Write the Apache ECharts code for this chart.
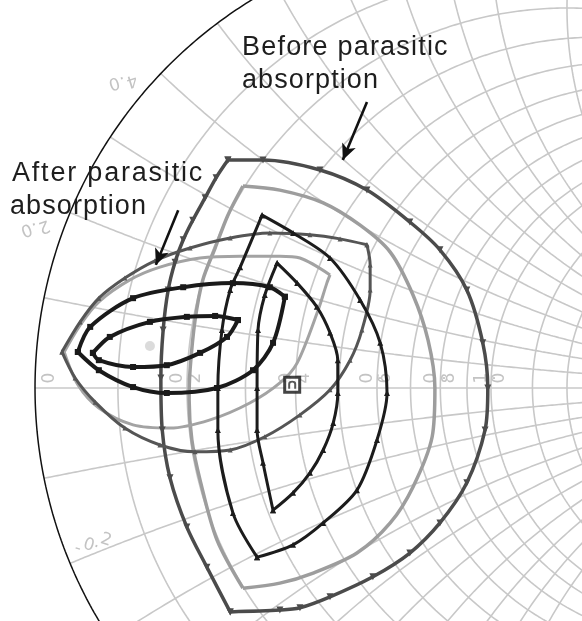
<!DOCTYPE html>
<html>
<head>
<meta charset="utf-8">
<title>Impedance loci</title>
<script src="https://cdn.jsdelivr.net/npm/echarts@6.0.0/dist/echarts.min.js"></script>
<style>
html,body{margin:0;padding:0;background:#ffffff;}
#chart{width:582px;height:621px;}
</style>
</head>
<body>
<div id="chart"></div>
<script>
// ---- Smith chart grid values ----
const resistanceValues = [0.1,0.2,0.3,0.4,0.5,0.6,0.7,0.8,0.9,1.0,1.2,1.4,1.6,1.8,2.0,3.0,4.0,5.0];
const reactanceValues = [0.1,0.2,0.3,0.4,0.5,0.6,0.7,0.8,0.9,1.0,1.2,1.4,1.6,1.8,2.0,3.0,4.0,5.0];
const resistanceLabels = ['0','0.2','0.4','0.6','0.8','1.0'];
const resistanceLabelValues = [0,0.2,0.4,0.6,0.8,1.0];
const reactanceLabels = ['0.2','0.4','-0.2'];
const reactanceLabelValues = [0.2,0.4,-0.2];

// ---- Reflection-coefficient loci [Re Γ, Im Γ] ----
// before parasitic absorption
const beforeOuterRight = [[-0.577,0.500],[-0.500,0.500],[-0.375,0.478],[-0.272,0.434],[-0.178,0.364],[-0.112,0.303],[-0.053,0.215],[-0.018,0.099],[-0.007,0.000],[-0.013,-0.092],[-0.053,-0.208],[-0.112,-0.296],[-0.178,-0.362],[-0.259,-0.414],[-0.353,-0.458],[-0.419,-0.482],[-0.463,-0.487],[-0.572,-0.491]];
const beforeOuterLeft = [[-0.572,-0.491],[-0.623,-0.393],[-0.667,-0.305],[-0.704,-0.197],[-0.721,-0.092],[-0.724,0.022],[-0.719,0.127],[-0.708,0.215],[-0.693,0.276],[-0.675,0.325],[-0.654,0.368],[-0.627,0.417],[-0.603,0.461],[-0.577,0.500]];
const beforeGreyRight = [[-0.544,0.443],[-0.463,0.434],[-0.368,0.406],[-0.287,0.357],[-0.221,0.298],[-0.171,0.204],[-0.138,0.105],[-0.123,0.000],[-0.129,-0.107],[-0.171,-0.217],[-0.221,-0.296],[-0.294,-0.362],[-0.390,-0.406],[-0.463,-0.428],[-0.544,-0.439]];
const beforeGreyLeft = [[-0.544,-0.439],[-0.601,-0.333],[-0.638,-0.202],[-0.656,-0.114],[-0.662,-0.026],[-0.660,0.039],[-0.649,0.149],[-0.632,0.237],[-0.605,0.307],[-0.577,0.379],[-0.544,0.443]];
const beforeBlackRight = [[-0.502,0.379],[-0.434,0.340],[-0.353,0.285],[-0.287,0.193],[-0.243,0.099],[-0.228,-0.011],[-0.250,-0.114],[-0.294,-0.224],[-0.368,-0.296],[-0.434,-0.344],[-0.513,-0.371]];
const beforeBlackLeft = [[-0.513,-0.371],[-0.566,-0.274],[-0.599,-0.092],[-0.599,0.000],[-0.590,0.127],[-0.572,0.215],[-0.550,0.265],[-0.502,0.379]];
const beforeInnerRight = [[-0.469,0.274],[-0.425,0.230],[-0.382,0.178],[-0.353,0.121],[-0.336,0.061],[-0.336,-0.011],[-0.346,-0.077],[-0.368,-0.136],[-0.397,-0.186],[-0.434,-0.230],[-0.478,-0.268]];
const beforeInnerLeft = [[-0.478,-0.268],[-0.500,-0.164],[-0.513,-0.092],[-0.513,0.000],[-0.511,0.127],[-0.496,0.204],[-0.469,0.274]];
// after parasitic absorption
const afterOuterUpper = [[-0.941,0.079],[-0.901,0.145],[-0.860,0.197],[-0.803,0.241],[-0.737,0.279],[-0.660,0.307],[-0.572,0.329],[-0.485,0.340],[-0.397,0.336],[-0.331,0.327],[-0.272,0.314]];
const afterOuterLower = [[-0.272,0.314],[-0.265,0.270],[-0.265,0.215],[-0.283,0.127],[-0.309,0.061],[-0.353,-0.004],[-0.419,-0.059],[-0.496,-0.107],[-0.572,-0.136],[-0.649,-0.140],[-0.726,-0.125],[-0.803,-0.088],[-0.868,-0.031],[-0.912,0.022],[-0.941,0.079]];
const afterGreyUpper = [[-0.936,0.079],[-0.901,0.138],[-0.860,0.189],[-0.792,0.237],[-0.726,0.265],[-0.638,0.285],[-0.550,0.289],[-0.463,0.289],[-0.419,0.285],[-0.353,0.248]];
const afterGreyLower = [[-0.353,0.248],[-0.360,0.230],[-0.379,0.171],[-0.425,0.055],[-0.463,0.011],[-0.529,-0.033],[-0.616,-0.070],[-0.704,-0.088],[-0.785,-0.081],[-0.860,-0.044],[-0.906,0.007],[-0.936,0.079]];
const afterBlackUpper = [[-0.906,0.079],[-0.879,0.134],[-0.785,0.197],[-0.675,0.221],[-0.566,0.230],[-0.485,0.221],[-0.452,0.200]];
const afterBlackLower = [[-0.452,0.200],[-0.478,0.099],[-0.522,0.039],[-0.601,0.000],[-0.711,-0.011],[-0.785,0.002],[-0.860,0.039],[-0.906,0.079]];
const afterInnerUpper = [[-0.873,0.077],[-0.836,0.112],[-0.748,0.145],[-0.667,0.156],[-0.605,0.158],[-0.555,0.149]];
const afterInnerLower = [[-0.555,0.149],[-0.579,0.112],[-0.638,0.077],[-0.711,0.050],[-0.785,0.046],[-0.860,0.061],[-0.873,0.077]];
// single reference points
const boxPoint = [[-0.436,0.007]];
const dotPoint = [[-0.748,0.092]];
// annotation arrows: [tail, head]
const beforeArrow = [[-0.272,0.627],[-0.325,0.500]];
const afterArrow = [[-0.686,0.390],[-0.735,0.270]];

// visible window of the Γ plane
const RE_MIN = -1.0768, RE_MAX = 0.1996, IM_MIN = -0.5110, IM_MAX = 0.8509;

function resistanceCircle(r, n) {
  const c = r / (1 + r), rad = 1 / (1 + r), pts = [];
  for (let i = 0; i <= n; i++) {
    const a = 2 * Math.PI * i / n;
    pts.push([c + rad * Math.cos(a), rad * Math.sin(a)]);
  }
  return pts;
}
function reactanceArc(x, n) {
  const cy = 1 / x, rho = 1 / Math.abs(x);
  const g0 = [(x * x - 1) / (x * x + 1), 2 * x / (x * x + 1)];
  const a1 = x > 0 ? -Math.PI / 2 : Math.PI / 2;
  let a0 = Math.atan2(g0[1] - cy, g0[0] - 1);
  if (x > 0 && a0 > a1) a0 -= 2 * Math.PI;
  if (x < 0 && a0 < a1) a0 += 2 * Math.PI;
  const pts = [];
  for (let i = 0; i <= n; i++) {
    const a = a1 + (a0 - a1) * i / n;
    pts.push([1 + rho * Math.cos(a), cy + rho * Math.sin(a)]);
  }
  return pts;
}

const GRID_COLOR = '#c8c8c8';
const series = [];
function gridLine(points, color, width) {
  series.push({ type: 'line', data: points, showSymbol: false, symbol: 'none', silent: true,
    lineStyle: { color: color, width: width }, z: 1, animation: false });
}
resistanceValues.forEach(r => gridLine(resistanceCircle(r, 720), GRID_COLOR, 1.6));
reactanceValues.forEach(x => { gridLine(reactanceArc(x, 400), GRID_COLOR, 1.6); gridLine(reactanceArc(-x, 400), GRID_COLOR, 1.6); });
gridLine([[-1, 0], [1, 0]], GRID_COLOR, 1.6);
gridLine(resistanceCircle(0, 1440), '#111111', 1.5);

function trace(points, color, width, symbol, size, rot, z) {
  series.push({ type: 'line', data: points, smooth: 0.3, silent: true, animation: false,
    symbol: symbol, symbolSize: size, symbolRotate: rot, showSymbol: symbol !== 'none',
    lineStyle: { color: color, width: width }, itemStyle: { color: color }, z: z });
}
trace(beforeOuterRight, '#4b4b4b', 3.5, 'triangle', 7, 180, 4);
trace(beforeOuterLeft, '#4b4b4b', 3.5, 'triangle', 7, 180, 4);
trace(beforeGreyRight, '#9d9d9d', 3.5, 'none', 0, 0, 3);
trace(beforeGreyLeft, '#9d9d9d', 3.5, 'none', 0, 0, 3);
trace(beforeBlackRight, '#1c1c1c', 3, 'triangle', 6, 0, 5);
trace(beforeBlackLeft, '#1c1c1c', 3, 'triangle', 6, 0, 5);
trace(beforeInnerRight, '#1c1c1c', 3, 'triangle', 6, 0, 5);
trace(beforeInnerLeft, '#1c1c1c', 3, 'triangle', 6, 0, 5);
trace(afterOuterUpper, '#555555', 3, 'triangle', 5, 0, 4);
trace(afterOuterLower, '#555555', 3, 'triangle', 5, 0, 4);
trace(afterGreyUpper, '#a3a3a3', 3, 'none', 0, 0, 3);
trace(afterGreyLower, '#a3a3a3', 3, 'none', 0, 0, 3);
trace(afterBlackUpper, '#1a1a1a', 4, 'rect', 6, 0, 6);
trace(afterBlackLower, '#1a1a1a', 4, 'rect', 6, 0, 6);
trace(afterInnerUpper, '#1a1a1a', 4, 'rect', 6, 0, 6);
trace(afterInnerLower, '#1a1a1a', 4, 'rect', 6, 0, 6);

series.push({ type: 'scatter', data: dotPoint, symbol: 'circle', symbolSize: 10, silent: true,
  itemStyle: { color: '#d2d2d2' }, z: 2, animation: false });
series.push({ type: 'scatter', data: boxPoint, symbol: 'rect', symbolSize: 15, silent: true,
  itemStyle: { color: '#ffffff', borderColor: '#151515', borderWidth: 3 }, z: 7, animation: false });
series.push({ type: 'scatter', data: boxPoint, symbol: 'path://M0,10 L0,4 A4,4 0 0 1 8,4 L8,10 L6,10 L6,4 A2,2 0 0 0 2,4 L2,10 Z', symbolSize: [8, 8], silent: true,
  itemStyle: { color: '#303030' }, z: 8, animation: false });

function arrowLine(pair) {
  series.push({ type: 'line', data: [], silent: true, animation: false, z: 9,
    markLine: { silent: true, animation: false, symbol: ['none', 'arrow'], symbolSize: [11, 16],
      label: { show: false }, lineStyle: { color: '#111111', width: 2.6, type: 'solid' },
      data: [[{ coord: pair[0] }, { coord: pair[1] }]] } });
}
arrowLine(beforeArrow);
arrowLine(afterArrow);

const option = {
  backgroundColor: '#ffffff',
  animation: false,
  grid: { left: 0, right: 0, top: 0, bottom: 0, containLabel: false },
  xAxis: { type: 'value', min: RE_MIN, max: RE_MAX, show: false },
  yAxis: { type: 'value', min: IM_MIN, max: IM_MAX, show: false },
  series: series
};

const chart = echarts.init(document.getElementById('chart'), null, { renderer: 'canvas' });
chart.setOption(option);

// ---- text: axis labels drawn glyph by glyph, plus annotations ----
const LABEL_FONT = '17px "DejaVu Sans"';
const LABEL_COLOR = '#c3c3c3';
function glyphRow(str, cx, cy, baseAngle, glyphRot) {
  const adv = ch => (ch === '.' ? 6 : ch === '-' ? 11 : 12);
  let total = 0;
  for (const ch of str) total += adv(ch);
  const ux = Math.cos(baseAngle), uy = Math.sin(baseAngle);
  let s = -total / 2;
  const out = [];
  for (const ch of str) {
    const m = s + adv(ch) / 2;
    out.push({ type: 'text', x: cx + ux * m, y: cy + uy * m, rotation: glyphRot, silent: true, z: 2,
      style: { text: ch, font: LABEL_FONT, fill: LABEL_COLOR, align: 'center', verticalAlign: 'middle' } });
    s += adv(ch);
  }
  return out;
}
const graphics = [];
const toPx = p => chart.convertToPixel({ gridIndex: 0 }, p);
resistanceLabelValues.forEach((r, i) => {
  const p = toPx([(r - 1) / (r + 1), 0]);
  const dx = r === 0 ? 15 : 0;
  graphics.push(...glyphRow(resistanceLabels[i], p[0] + dx, p[1] - 10, 0, Math.PI / 2));
});
const reactanceLabelOffsets = [[-35, 15, -0.17, Math.PI + 0.35], [-38, 8, -0.13, Math.PI + 0.3], [22, -19, -0.3, -0.3]];
reactanceLabelValues.forEach((x, i) => {
  const g = toPx([(x * x - 1) / (x * x + 1), 2 * x / (x * x + 1)]);
  const o = reactanceLabelOffsets[i];
  graphics.push(...glyphRow(reactanceLabels[i], g[0] + o[0], g[1] + o[1], o[2], o[3]));
});

// annotation text, set with a little extra tracking between letters
const NOTE_FONT = '27px "Liberation Sans"';
const measureCtx = document.createElement('canvas').getContext('2d');
measureCtx.font = NOTE_FONT;
function spacedText(str, x0, yMid, tracking) {
  let x = x0;
  for (const ch of str) {
    const w = measureCtx.measureText(ch).width;
    if (ch !== ' ') {
      graphics.push({ type: 'text', x: x, y: yMid, silent: true, z: 20,
        style: { text: ch, font: NOTE_FONT, fill: '#1e1e1e', align: 'left', verticalAlign: 'middle' } });
    }
    x += w + tracking;
  }
}
spacedText('Before parasitic', 242, 47.5, 1.2);
spacedText('absorption', 242, 81, 1.1);
spacedText('After parasitic', 12, 173.5, 1.8);
spacedText('absorption', 10, 206.5, 1.1);
chart.setOption({ graphic: graphics });
</script>
</body>
</html>
